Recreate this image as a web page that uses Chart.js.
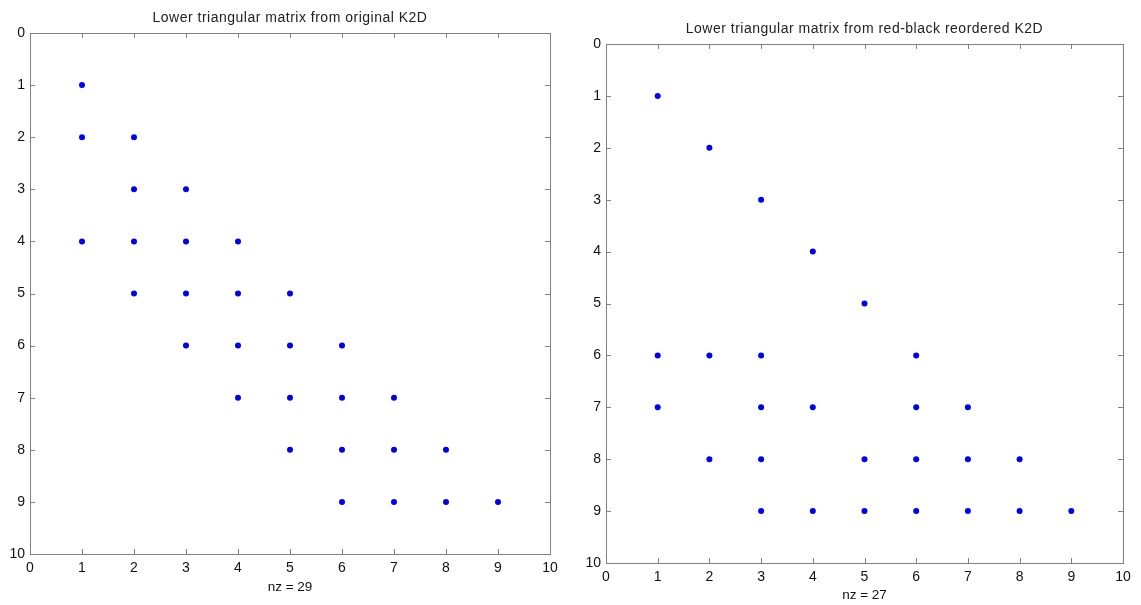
<!DOCTYPE html>
<html>
<head>
<meta charset="utf-8">
<script src="https://cdn.jsdelivr.net/npm/chart.js@4.4.1/dist/chart.umd.min.js"></script>
<style>
  html, body { margin: 0; padding: 0; background: #fff; }
  .panel { position: absolute; top: 0; }
  #leftPanel { left: 0; width: 570px; height: 605px; }
  #rightPanel { left: 575px; width: 566px; height: 605px; }
</style>
</head>
<body>
<div class="panel" id="leftPanel"><canvas id="origChart" width="570" height="605"></canvas></div>
<div class="panel" id="rightPanel"><canvas id="rbChart" width="566" height="605"></canvas></div>
<script>
// nonzero columns for each row 1..9 of the lower triangular factor
const origCols = [[1], [1, 2], [2, 3], [1, 2, 3, 4], [2, 3, 4, 5], [3, 4, 5, 6], [4, 5, 6, 7], [5, 6, 7, 8], [6, 7, 8, 9]];
const rbCols = [[1], [2], [3], [4], [5], [1, 2, 3, 6], [1, 3, 4, 6, 7], [2, 3, 5, 6, 7, 8], [3, 4, 5, 6, 7, 8, 9]];

const axisTicks = [0, 1, 2, 3, 4, 5, 6, 7, 8, 9, 10];
const titles = ['Lower triangular matrix from original K2D', 'Lower triangular matrix from red-black reordered K2D'];
const xLabels = ['nz = 29', 'nz = 27'];

const frameColor = '#808080';
const dotColor = '#0000f0';
const fontFamily = '"Liberation Sans", Arial, sans-serif';

function toPoints(cols) {
    const pts = [];
    cols.forEach((row, i) => {
        row.forEach(c => pts.push({ x: c, y: i + 1 }));
    });
    return pts;
}

// frame, inward ticks and title, matlab style
const framePlugin = {
    id: 'frame',
    afterDraw(chart, args, opts) {
        const ctx = chart.ctx;
        const a = chart.chartArea;
        const xs = chart.scales.x, ys = chart.scales.y;
        ctx.save();
        ctx.strokeStyle = frameColor;
        ctx.lineWidth = 1;
        ctx.strokeRect(Math.round(a.left) + 0.5, Math.round(a.top) + 0.5, Math.round(a.right - a.left), Math.round(a.bottom - a.top));
        ctx.beginPath();
        axisTicks.forEach(v => {
            const px = Math.round(xs.getPixelForValue(v)) + 0.5;
            ctx.moveTo(px, a.bottom); ctx.lineTo(px, a.bottom - 5);
            ctx.moveTo(px, a.top); ctx.lineTo(px, a.top + 5);
            const py = Math.round(ys.getPixelForValue(v)) + 0.5;
            ctx.moveTo(a.left, py); ctx.lineTo(a.left + 5, py);
            ctx.moveTo(a.right, py); ctx.lineTo(a.right - 5, py);
        });
        ctx.stroke();
        ctx.fillStyle = '#222';
        ctx.font = '14px ' + fontFamily;
        ctx.letterSpacing = '0.5px';
        ctx.textAlign = 'center';
        ctx.textBaseline = 'middle';
        ctx.fillText(opts.text, (a.left + a.right) / 2, a.top - 15);
        ctx.restore();
    }
};

function makeChart(id, cols, title, xLabel, pad, yWidth, xHeight, titlePad) {
    const ctx = document.getElementById(id).getContext('2d');
    return new Chart(ctx, {
        type: 'scatter',
        data: {
            datasets: [{
                data: toPoints(cols),
                backgroundColor: dotColor,
                borderWidth: 0,
                pointRadius: 3,
                pointHoverRadius: 3
            }]
        },
        options: {
            responsive: false,
            animation: false,
            layout: { padding: pad },
            plugins: {
                legend: { display: false },
                tooltip: { enabled: false },
                frame: { text: title }
            },
            scales: {
                x: {
                    type: 'linear',
                    min: 0,
                    max: 10,
                    afterBuildTicks: s => { s.ticks = axisTicks.map(v => ({ value: v })); },
                    grid: { display: false, drawTicks: false },
                    border: { display: false },
                    ticks: {
                        color: '#111',
                        padding: 6,
                        maxRotation: 0,
                        autoSkip: false,
                        font: { family: fontFamily, size: 14 }
                    },
                    title: {
                        display: true,
                        text: xLabel,
                        color: '#111',
                        padding: { top: 0, bottom: titlePad },
                        font: { family: fontFamily, size: 13.5 }
                    },
                    afterFit: s => { s.height = xHeight; }
                },
                y: {
                    type: 'linear',
                    min: 0,
                    max: 10,
                    reverse: true,
                    afterBuildTicks: s => { s.ticks = axisTicks.map(v => ({ value: v })); },
                    grid: { display: false, drawTicks: false },
                    border: { display: false },
                    ticks: {
                        color: '#111',
                        padding: 5,
                        autoSkip: false,
                        font: { family: fontFamily, size: 14 }
                    },
                    afterFit: s => { s.width = yWidth; }
                }
            }
        },
        plugins: [framePlugin]
    });
}

makeChart('origChart', origCols, titles[0], xLabels[0], { top: 33, right: 20, left: 0, bottom: 0 }, 30, 51, 10);
makeChart('rbChart', rbCols, titles[1], xLabels[1], { top: 44, right: 18, left: 0, bottom: 0 }, 31, 42, 2);
</script>
</body>
</html>
